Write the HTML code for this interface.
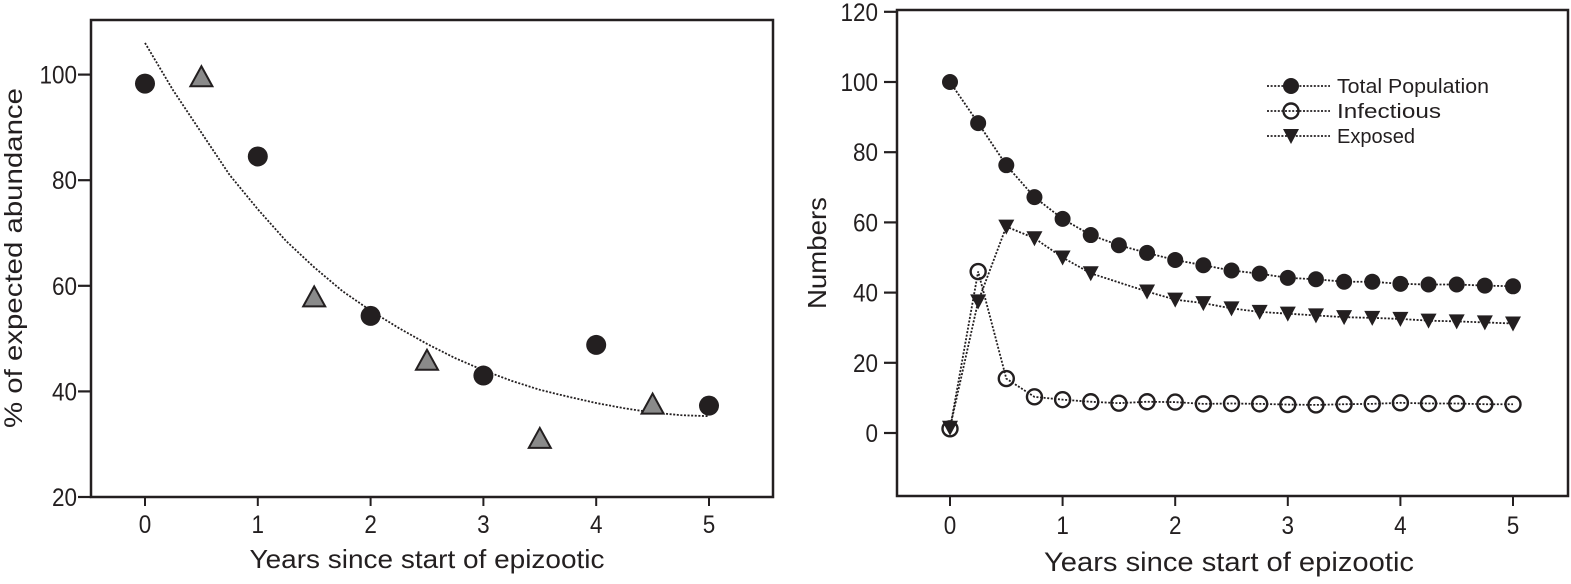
<!DOCTYPE html>
<html><head><meta charset="utf-8"><style>
html,body{margin:0;padding:0;background:#fff;}
svg text{font-family:"Liberation Sans",sans-serif;fill:#231f20;}
</style></head><body>
<svg id="fig" width="1571" height="579" viewBox="0 0 1571 579" xmlns="http://www.w3.org/2000/svg">
<g id="left"></g>
<g id="right"></g>
</svg>
<script>
// ---- Left chart data ----
const leftCircleX = [0,1,2,3,4,5];
const leftCircleY = [98.3,84.5,54.3,43,48.8,37.3];
const leftTriX = [0.5,1.5,2.5,3.5,4.5];
const leftTriY = [99.5,57.8,45.8,31,37.5];
const leftFitX = [0,0.25,0.5,0.75,1,1.25,1.5,1.75,2,2.25,2.5,2.75,3,3.25,3.5,3.75,4,4.25,4.5,4.75,5];
const leftFitY = [106,97,89,81,74.5,68.5,63.5,59,55.3,52,49,46.3,44,42,40.3,39,37.8,36.8,36,35.5,35.3];
const leftYTicks = [20,40,60,80,100];
const leftXTicks = [0,1,2,3,4,5];
// ---- Right chart data ----
const rightX = [0,0.25,0.5,0.75,1,1.25,1.5,1.75,2,2.25,2.5,2.75,3,3.25,3.5,3.75,4,4.25,4.5,4.75,5];
const totalPop = [100,88.3,76.3,67.2,61,56.4,53.5,51.3,49.3,47.8,46.3,45.4,44.2,43.8,43.1,43.1,42.5,42.3,42.3,42,41.8];
const infectious = [1.2,46,15.5,10.3,9.5,8.9,8.5,8.9,8.8,8.3,8.4,8.3,8.1,8,8.2,8.3,8.6,8.4,8.4,8.2,8.2];
const exposed = [1.5,37.5,58.8,55.5,50,45.5,null,40.3,38,37,35.5,34.5,34,33.5,33,32.8,32.5,32,31.8,31.5,31.2];
const rightYTicks = [0,20,40,60,80,100,120];
const rightXTicks = [0,1,2,3,4,5];
const legendLabels = ["Total Population","Infectious","Exposed"];
const legendWidths = [152,104,78];

const NS="http://www.w3.org/2000/svg";
function mk(parent,tag,attrs,txt){const e=document.createElementNS(NS,tag);for(const k in attrs)e.setAttribute(k,attrs[k]);if(txt!==undefined)e.textContent=txt;parent.appendChild(e);return e;}
const C="#231f20";
const DASH='2,1.6';
function tickText(g,x,y,anchor,t){
  const s=String(t);
  return mk(g,'text',{x,y,'text-anchor':anchor,'font-size':25,textLength:s.length*12.5,lengthAdjust:'spacingAndGlyphs'},s);
}

// ===== LEFT =====
const L=document.getElementById('left');
const lx=v=>145+v*112.8, ly=v=>497-(v-20)*5.28;
let el;
el=mk(L,'rect',{x:91,y:20,width:682,height:477,fill:'none',stroke:C,'stroke-width':2.5});


leftYTicks.forEach(t=>{
  el=mk(L,'line',{x1:78,y1:ly(t),x2:91,y2:ly(t),stroke:C,'stroke-width':2.2});
  
  
  el=tickText(L,77,ly(t)+9,'end',t);
  
  
});
leftXTicks.forEach(t=>{
  el=mk(L,'line',{x1:lx(t),y1:497,x2:lx(t),y2:506,stroke:C,'stroke-width':2});
  
  
  el=tickText(L,lx(t),533,'middle',t);
  
  
});
el=mk(L,'text',{x:427,y:568,'text-anchor':'middle','font-size':26,textLength:355,lengthAdjust:'spacingAndGlyphs'},'Years since start of epizootic');


el=mk(L,'text',{x:0,y:0,'text-anchor':'middle','font-size':25,transform:'translate(22,258) rotate(-90)',textLength:340,lengthAdjust:'spacingAndGlyphs'},'% of expected abundance');


el=mk(L,'path',{d:leftFitX.map((x,i)=>(i?'L':'M')+lx(x)+','+ly(leftFitY[i])).join(''),fill:'none',stroke:C,'stroke-width':1.8,'stroke-dasharray':DASH});


leftCircleX.forEach((x,i)=>{
  el=mk(L,'circle',{cx:lx(x),cy:ly(leftCircleY[i]),r:10,fill:C});
  
  
});
leftTriX.forEach((x,i)=>{
  const cx=lx(x),cy=ly(leftTriY[i]);
  el=mk(L,'polygon',{points:`${cx},${cy-11} ${cx-11},${cy+9} ${cx+11},${cy+9}`,fill:'#8a8a8a',stroke:C,'stroke-width':2});
  
  
});

// ===== RIGHT =====
const R=document.getElementById('right');
const rx=v=>950+v*112.6, ry=v=>433-v*3.51;
el=mk(R,'rect',{x:897,y:10,width:671,height:486,fill:'none',stroke:C,'stroke-width':2.5});


rightYTicks.forEach(t=>{
  el=mk(R,'line',{x1:884,y1:ry(t),x2:897,y2:ry(t),stroke:C,'stroke-width':2.2});
  
  
  el=tickText(R,878,ry(t)+9,'end',t);
  
  
});
rightXTicks.forEach(t=>{
  el=mk(R,'line',{x1:rx(t),y1:496,x2:rx(t),y2:506,stroke:C,'stroke-width':2});
  
  
  el=tickText(R,rx(t),534,'middle',t);
  
  
});
el=mk(R,'text',{x:1229,y:571,'text-anchor':'middle','font-size':27,textLength:370,lengthAdjust:'spacingAndGlyphs'},'Years since start of epizootic');


el=mk(R,'text',{x:0,y:0,'text-anchor':'middle','font-size':26,transform:'translate(826,253) rotate(-90)',textLength:112,lengthAdjust:'spacingAndGlyphs'},'Numbers');



function seriesPath(vals){let d='',first=true;vals.forEach((v,i)=>{if(v===null)return;d+=(first?'M':'L')+rx(rightX[i])+','+ry(v);first=false;});return d;}
function marker(g,type,cx,cy){
  if(type==='fill') return mk(g,'circle',{cx,cy,r:8,fill:C});
  if(type==='open') return mk(g,'circle',{cx,cy,r:7.5,fill:'none',stroke:C,'stroke-width':2.4});
  return mk(g,'polygon',{points:`${cx-8},${cy-7} ${cx+8},${cy-7} ${cx},${cy+8}`,fill:C});
}
const series=[[totalPop,'fill','total-population'],[exposed,'tri','exposed'],[infectious,'open','infectious']];
series.forEach(([vals,type,name])=>{
  el=mk(R,'path',{d:seriesPath(vals),fill:'none',stroke:C,'stroke-width':1.8,'stroke-dasharray':DASH});
  
  
});
series.forEach(([vals,type,name])=>{
  vals.forEach((v,i)=>{
    if(v===null)return;
    el=marker(R,type,rx(rightX[i]),ry(v));
    
    
  });
});
// legend
const legTypes=['fill','open','tri'];
legendLabels.forEach((lab,i)=>{
  const y=86+i*25;
  const g=mk(R,'g',{});
  
  
  mk(g,'line',{x1:1267,y1:y,x2:1330,y2:y,stroke:C,'stroke-width':1.8,'stroke-dasharray':DASH});
  marker(g,legTypes[i],1291,y);
  mk(g,'text',{x:1337,y:y+7,'font-size':20,textLength:legendWidths[i],lengthAdjust:'spacingAndGlyphs'},lab);
});
</script>
</body></html>
